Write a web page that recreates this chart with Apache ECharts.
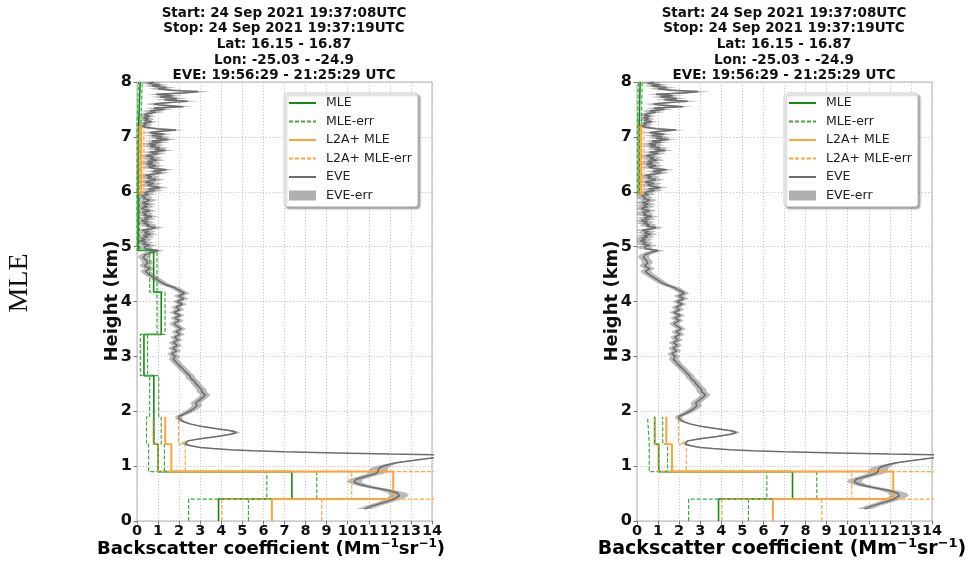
<!DOCTYPE html>
<html><head><meta charset="utf-8">
<script src="https://cdn.jsdelivr.net/npm/echarts@6/dist/echarts.min.js"></script>
<style>html,body{margin:0;padding:0;background:#fff}#c{width:974px;height:563px}</style>
</head><body><div id="c"></div><script>
// ---------- text ----------
const titleLines = ['Start: 24 Sep 2021 19:37:08UTC','Stop: 24 Sep 2021 19:37:19UTC','Lat: 16.15 - 16.87','Lon: -25.03 - -24.9','EVE: 19:56:29 - 21:25:29 UTC'];
const sideLabel = 'MLE';
const yTitle = 'Height (km)';
const legendNames = ['MLE','MLE-err','L2A+ MLE','L2A+ MLE-err','EVE','EVE-err'];
const xRange = [0, 14];
const yRange = [0, 8];

// ---------- left panel layers (height bounds in km, values in Mm-1 sr-1) ----------
const aMleBounds = [0, 0.4, 0.9, 1.4, 1.9, 2.65, 3.4, 4.17, 4.93, 6.0, 7.2, 8.0];
const aMle       = [3.87, 7.35, 1.0, 0.8, 0.8, 0.33, 1.15, 0.79, 0.05, 0.08, 0.15];
const aMleLo     = [2.45, 6.16, 0.55, 0.45, 0.6, 0.16, 0.95, 0.6, 0.0, 0.0, 0.07];
const aMleHi     = [5.29, 8.53, 1.3, 1.15, 1.03, 0.5, 1.33, 0.95, 0.12, 0.18, 0.25];
const aL2aBounds = [0, 0.4, 0.9, 1.4, 1.9];
const aL2a       = [6.4, 12.16, 1.63, 1.34];
const aL2aLo     = [4.03, 10.19, 1.0, 0.76];
const aL2aHi     = [8.77, 14.6, 2.29, 1.97];
const aL2aUpBounds = [5.95, 7.2];
const aL2aUp     = [0.2];
const aL2aUpLo   = [0.1];
const aL2aUpHi   = [0.33];

// ---------- right panel layers ----------
const bMleBounds = [0, 0.4, 0.9, 1.4, 1.9];
const bMle       = [3.87, 7.38, 1.03, 0.84];
const bMleLo     = [2.45, 6.16, 0.58, 0.5];
const bMleHi     = [5.29, 8.53, 1.45, 1.22];
const bMleUpBounds = [5.95, 7.2, 8.0];
const bMleUp     = [0.1, 0.15];
const bMleUpLo   = [0.02, 0.07];
const bMleUpHi   = [0.2, 0.25];
const bL2aBounds = [0, 0.4, 0.9, 1.4, 1.9];
const bL2a       = [6.45, 12.16, 1.66, 1.39];
const bL2aLo     = [4.03, 10.19, 1.0, 0.82];
const bL2aHi     = [8.77, 14.6, 2.34, 1.97];
const bL2aUpBounds = [5.95, 7.2];
const bL2aUp     = [0.2];
const bL2aUpLo   = [0.1];
const bL2aUpHi   = [0.33];

// ---------- EVE profile: [height km, backscatter, error] ----------
const eve = [
[0.22,10.8,0.35],[0.28,11.2,0.35],[0.34,11.75,0.35],[0.40,12.2,0.4],[0.46,12.45,0.45],[0.51,12.35,0.45],[0.56,11.9,0.4],[0.61,11.2,0.35],[0.66,10.6,0.35],[0.71,10.3,0.35],[0.76,10.4,0.35],[0.81,10.85,0.35],[0.86,11.3,0.4],[0.90,11.45,0.45],[0.94,11.45,0.45],[0.98,11.55,0.4],[1.02,11.85,0.3],[1.06,12.3,0.18],[1.10,13.0,0.14],[1.14,13.8,0.12],[1.17,14.5,0.12],[1.19,15.2,0.12],[1.205,14.6,0.12],[1.22,12.0,0.12],[1.24,9.5,0.12],[1.26,7.0,0.12],[1.28,5.5,0.12],[1.30,4.4,0.12],[1.32,3.6,0.12],[1.34,3.0,0.12],[1.37,2.55,0.12],[1.40,2.3,0.12],[1.43,2.22,0.12],[1.46,2.4,0.12],[1.50,3.0,0.14],[1.54,3.8,0.16],[1.58,4.45,0.18],[1.61,4.72,0.18],[1.64,4.55,0.18],[1.68,3.8,0.14],[1.72,3.1,0.12],[1.77,2.5,0.12],[1.82,2.15,0.14],[1.87,1.98,0.16],[1.91,2.0,0.18],[1.95,2.25,0.22],[2.0,2.5,0.24],[2.05,2.7,0.24],[2.1,2.85,0.24],[2.15,2.78,0.24],[2.2,2.95,0.24],[2.25,3.12,0.24],[2.3,3.25,0.24],[2.35,3.08,0.24],[2.4,3.05,0.24],[2.45,2.92,0.22],[2.5,2.8,0.22],[2.55,2.72,0.22],[2.6,2.55,0.22],[2.65,2.5,0.22],[2.7,2.35,0.22],[2.75,2.22,0.22],[2.8,2.1,0.22],[2.85,1.95,0.22],[2.9,1.85,0.22],
[2.95,1.72,0.22],[3.0,1.82,0.22],[3.05,1.65,0.22],[3.1,1.88,0.22],[3.15,1.7,0.22],[3.2,1.92,0.22],[3.25,1.72,0.22],[3.3,1.95,0.22],[3.35,1.78,0.22],[3.4,2.05,0.22],[3.45,1.85,0.22],[3.5,2.1,0.22],[3.55,1.9,0.22],[3.6,1.75,0.22],[3.65,2.0,0.22],[3.7,1.8,0.22],[3.75,2.05,0.22],[3.8,1.75,0.22],[3.85,2.02,0.22],[3.9,1.85,0.22],[3.95,2.15,0.22],[4.0,1.9,0.22],[4.05,2.22,0.24],[4.1,1.98,0.24],[4.15,2.25,0.24],[4.2,2.02,0.24],[4.25,1.8,0.24],[4.3,1.4,0.24],[4.35,1.15,0.24],[4.4,0.95,0.25],[4.45,0.75,0.25],[4.5,0.55,0.25],[4.55,0.4,0.25],[4.6,0.6,0.25],[4.65,0.35,0.25],[4.7,0.5,0.25],[4.75,0.45,0.25],[4.8,0.3,0.25],[4.85,0.38,0.25],[4.9,0.7,0.3],[4.93,1.0,0.3],[4.96,0.4,0.3],
[5.0,0.35,0.35],[5.025,0.6,0.35],[5.05,0.25,0.35],[5.075,0.45,0.35],[5.1,0.15,0.35],[5.125,0.4,0.35],[5.15,0.2,0.35],[5.175,0.5,0.35],[5.2,0.3,0.35],[5.225,0.65,0.35],[5.25,0.35,0.35],[5.275,0.55,0.35],[5.3,0.25,0.35],[5.325,0.7,0.35],[5.35,0.9,0.35],[5.375,0.45,0.35],[5.4,0.6,0.35],[5.425,0.3,0.35],[5.45,0.5,0.35],[5.475,0.2,0.35],[5.5,0.55,0.35],[5.525,0.35,0.35],[5.55,0.7,0.35],[5.575,0.3,0.35],[5.6,0.45,0.35],[5.625,0.25,0.35],[5.65,0.6,0.35],[5.675,0.35,0.35],[5.7,0.2,0.35],[5.725,0.5,0.35],[5.75,0.3,0.35],[5.775,0.55,0.35],[5.8,0.25,0.35],[5.825,0.45,0.35],[5.85,0.6,0.35],[5.875,0.3,0.35],[5.9,0.4,0.35],[5.925,0.2,0.35],[5.95,0.55,0.35],[5.975,0.35,0.35],
[6.0,0.5,0.4],[6.025,0.85,0.4],[6.05,0.55,0.4],[6.075,1.1,0.4],[6.1,0.7,0.4],[6.125,0.5,0.4],[6.15,0.8,0.4],[6.175,0.4,0.4],[6.2,0.65,0.4],[6.225,0.9,0.4],[6.25,0.5,0.4],[6.275,0.7,0.4],[6.3,0.4,0.4],[6.325,0.85,0.4],[6.35,1.15,0.4],[6.375,0.75,0.4],[6.4,1.4,0.4],[6.425,0.8,0.4],[6.45,0.55,0.4],[6.475,0.9,0.4],[6.5,0.45,0.4],[6.525,0.75,0.4],[6.55,0.5,0.4],[6.575,0.95,0.4],[6.6,0.6,0.4],[6.625,0.8,0.4],[6.65,0.45,0.4],[6.675,0.7,0.4],[6.7,1.0,0.4],[6.725,0.6,0.4],[6.75,1.35,0.4],[6.775,0.85,0.4],[6.8,1.1,0.4],[6.825,0.6,0.4],[6.85,0.9,0.4],[6.875,0.55,0.4],[6.9,1.15,0.4],[6.925,0.7,0.4],[6.95,1.5,0.4],[6.975,0.9,0.4],[7.0,1.2,0.4],[7.025,0.7,0.4],[7.05,1.3,0.4],[7.075,0.6,0.4],[7.1,1.0,0.4],[7.125,1.85,0.45],[7.15,0.9,0.4],[7.175,0.4,0.35],
[7.2,0.25,0.3],[7.225,0.45,0.3],[7.25,0.3,0.3],[7.275,0.7,0.3],[7.3,0.35,0.3],[7.325,0.55,0.3],[7.35,0.3,0.3],[7.375,0.6,0.3],[7.4,0.35,0.3],[7.425,0.5,0.3],[7.45,0.9,0.4],[7.475,0.6,0.4],[7.5,1.3,0.45],[7.525,0.8,0.45],[7.55,2.2,0.5],[7.575,1.2,0.45],[7.6,0.8,0.45],[7.625,1.5,0.45],[7.65,2.4,0.55],[7.675,1.3,0.45],[7.7,1.9,0.5],[7.725,1.1,0.45],[7.75,1.7,0.5],[7.775,0.9,0.45],[7.8,2.2,0.55],[7.825,2.9,0.6],[7.85,1.6,0.5],[7.875,1.0,0.45],[7.9,1.4,0.45],[7.925,0.7,0.4],[7.95,1.1,0.4],[7.975,0.5,0.4],[8.0,0.8,0.4]
];

// ---------- colours / style ----------
const C_MLE = '#138a13', C_MLEERR = '#3fa83f', C_L2A = '#ffa43a', C_L2AERR = '#ffa43a', C_EVE = '#6c6c6c', C_EVEERR = 'rgba(128,128,128,0.55)';
const FONT = 'DejaVu Sans';

function steps(bounds, vals) {
  const d = [];
  for (let i = 0; i < vals.length; i++) { d.push([vals[i], bounds[i]]); d.push([vals[i], bounds[i + 1]]); }
  return d;
}
function stepSeries(name, gi, bounds, vals, color, width, dashed) {
  return { name, type: 'line', xAxisIndex: gi, yAxisIndex: gi, data: steps(bounds, vals), symbol: 'none', silent: true, clip: true,
    lineStyle: { color, width, type: dashed ? [4, 2] : 'solid' }, itemStyle: { color }, animation: false };
}
function eveSeries(gi) {
  return [
    { name: 'EVE-err', type: 'custom', xAxisIndex: gi, yAxisIndex: gi, clip: true, silent: true, animation: false,
      itemStyle: { color: C_EVEERR }, data: [0],
      renderItem: function (params, api) {
        const lo = eve.map(p => api.coord([p[1] - p[2], p[0]]));
        const hi = eve.slice().reverse().map(p => api.coord([p[1] + p[2], p[0]]));
        return { type: 'polygon', shape: { points: lo.concat(hi) }, style: { fill: C_EVEERR, stroke: null } };
      } },
    { name: 'EVE', type: 'line', xAxisIndex: gi, yAxisIndex: gi, data: eve.map(p => [p[1], p[0]]), symbol: 'none', silent: true, clip: true,
      lineStyle: { color: C_EVE, width: 1.5 }, itemStyle: { color: C_EVE }, animation: false }
  ];
}

const series = [
  // left
  stepSeries('MLE', 0, aMleBounds, aMle, C_MLE, 1.6, false),
  stepSeries('MLE-err', 0, aMleBounds, aMleLo, C_MLEERR, 1.2, true),
  stepSeries('MLE-err', 0, aMleBounds, aMleHi, C_MLEERR, 1.2, true),
  stepSeries('L2A+ MLE', 0, aL2aBounds, aL2a, C_L2A, 2, false),
  stepSeries('L2A+ MLE', 0, aL2aUpBounds, aL2aUp, C_L2A, 2, false),
  stepSeries('L2A+ MLE-err', 0, aL2aBounds, aL2aLo, C_L2AERR, 1.2, true),
  stepSeries('L2A+ MLE-err', 0, aL2aBounds, aL2aHi, C_L2AERR, 1.2, true),
  stepSeries('L2A+ MLE-err', 0, aL2aUpBounds, aL2aUpLo, C_L2AERR, 1.2, true),
  stepSeries('L2A+ MLE-err', 0, aL2aUpBounds, aL2aUpHi, C_L2AERR, 1.2, true),
  ...eveSeries(0),
  // right
  stepSeries('MLE', 1, bMleBounds, bMle, C_MLE, 1.6, false),
  stepSeries('MLE', 1, bMleUpBounds, bMleUp, C_MLE, 1.6, false),
  stepSeries('MLE-err', 1, bMleBounds, bMleLo, C_MLEERR, 1.2, true),
  stepSeries('MLE-err', 1, bMleBounds, bMleHi, C_MLEERR, 1.2, true),
  stepSeries('MLE-err', 1, bMleUpBounds, bMleUpLo, C_MLEERR, 1.2, true),
  stepSeries('MLE-err', 1, bMleUpBounds, bMleUpHi, C_MLEERR, 1.2, true),
  stepSeries('L2A+ MLE', 1, bL2aBounds, bL2a, C_L2A, 2, false),
  stepSeries('L2A+ MLE', 1, bL2aUpBounds, bL2aUp, C_L2A, 2, false),
  stepSeries('L2A+ MLE-err', 1, bL2aBounds, bL2aLo, C_L2AERR, 1.2, true),
  stepSeries('L2A+ MLE-err', 1, bL2aBounds, bL2aHi, C_L2AERR, 1.2, true),
  stepSeries('L2A+ MLE-err', 1, bL2aUpBounds, bL2aUpLo, C_L2AERR, 1.2, true),
  stepSeries('L2A+ MLE-err', 1, bL2aUpBounds, bL2aUpHi, C_L2AERR, 1.2, true),
  ...eveSeries(1)
];

const grids = [
  { left: 137, right: 542, top: 82, bottom: 42 },
  { left: 637, right: 42, top: 82, bottom: 42 }
].map(g => Object.assign({ show: true, borderColor: '#b3b3b3', borderWidth: 1, backgroundColor: 'transparent' }, g));

function xAx(gi) {
  return { type: 'value', gridIndex: gi, min: xRange[0], max: xRange[1], interval: 1,
    axisLine: { show: false }, axisTick: { show: true, length: 3.5, lineStyle: { color: '#777' } },
    axisLabel: { fontFamily: FONT, fontWeight: 'bold', fontSize: 14.5, color: '#111', margin: 3 },
    splitLine: { show: true, lineStyle: { color: '#b8b8b8', type: [1.2, 1.8], width: 0.8 } } };
}
function yAx(gi) {
  return { type: 'value', gridIndex: gi, min: yRange[0], max: yRange[1], interval: 1,
    axisLine: { show: false }, axisTick: { show: true, length: 3.5, lineStyle: { color: '#777' } },
    axisLabel: { fontFamily: FONT, fontWeight: 'bold', fontSize: 16, color: '#111', margin: 5 },
    splitLine: { show: true, lineStyle: { color: '#b8b8b8', type: [1.2, 1.8], width: 0.8 } } };
}
function legendAt(left) {
  return { left, top: 93, orient: 'vertical', itemWidth: 27, itemHeight: 10, itemGap: 4.5,
    padding: [3, 6, 4, 4], backgroundColor: '#fff', borderColor: '#cfcfcf', borderWidth: 1, borderRadius: 3,
    shadowColor: 'rgba(0,0,0,0.35)', shadowBlur: 2, shadowOffsetX: 2, shadowOffsetY: 2,
    selectedMode: false,
    textStyle: { fontFamily: FONT, fontSize: 12.5, color: '#222', lineHeight: 14, padding: [0, 0, 0, 5] },
    data: legendNames.map(n => n === 'EVE-err'
      ? { name: n, icon: 'rect', itemStyle: { color: '#b0b0b0' } }
      : { name: n, itemStyle: { opacity: 0 } }) };
}
const supRich = (fs) => ({
  b: { fontFamily: FONT, fontWeight: 'bold', fontSize: fs, lineHeight: fs + 4, color: '#111' },
  s: { fontFamily: FONT, fontWeight: 'bold', fontSize: Math.round(fs * 0.67), lineHeight: fs + 4, color: '#111', verticalAlign: 'top' }
});
const xTitleText = '{b|Backscatter coefficient (Mm}{s|\u22121}{b|sr}{s|\u22121}{b|)}';

function panelGraphics(cx, yTitleX, xTitleX, xTitleFs) {
  return [
    { type: 'text', x: cx, y: 5.5, style: { text: titleLines.join('\n'), fontFamily: FONT, fontWeight: 'bold', fontSize: 13.5, lineHeight: 15.6,
      fill: '#111', align: 'center', textAlign: 'center', verticalAlign: 'top', textVerticalAlign: 'top' } },
    { type: 'text', x: yTitleX, y: 301, rotation: Math.PI / 2, style: { text: yTitle, fontFamily: FONT, fontWeight: 'bold', fontSize: 18,
      fill: '#111', align: 'center', textAlign: 'center', verticalAlign: 'middle', textVerticalAlign: 'middle' } },
    { type: 'text', x: xTitleX, y: 549, style: { text: xTitleText, rich: supRich(xTitleFs), align: 'center', textAlign: 'center', verticalAlign: 'middle', textVerticalAlign: 'middle' } }
  ];
}

const chart = echarts.init(document.getElementById('c'), null, { renderer: 'canvas' });
chart.setOption({
  animation: false,
  backgroundColor: '#fff',
  grid: grids,
  xAxis: [xAx(0), xAx(1)],
  yAxis: [yAx(0), yAx(1)],
  legend: [legendAt(284), legendAt(784)],
  series,
  graphic: [
    ...panelGraphics(284, 112, 271, 18),
    ...panelGraphics(784, 612, 782, 19),
    { type: 'text', x: 20, y: 283, rotation: Math.PI / 2, style: { text: sideLabel, fontFamily: 'Liberation Serif', fontSize: 28, fill: '#111',
      align: 'center', textAlign: 'center', verticalAlign: 'middle', textVerticalAlign: 'middle' } }
  ]
});
</script></body></html>
